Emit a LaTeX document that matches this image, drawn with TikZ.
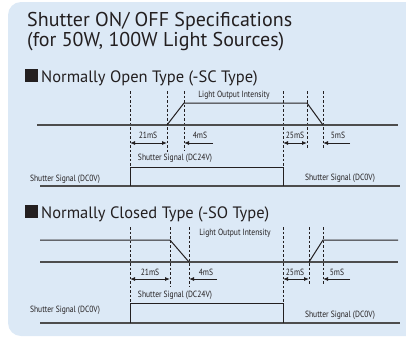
\documentclass[tikz,border=0pt]{standalone}
\usepackage{fontspec}
\setmainfont{PT Sans}
\usetikzlibrary{arrows.meta}
\definecolor{bgblue}{HTML}{DCE9F6}
\definecolor{ink}{HTML}{231F20}
\definecolor{basegray}{HTML}{4D4D4D}
\newcommand{\cnd}[1]{\scalebox{0.84}[1]{#1}}
\begin{document}
\begin{tikzpicture}[x=1pt,y=-1pt,
  lbl/.style={font=\fontsize{9}{10}\selectfont, inner sep=0pt, text=ink},
  ttl/.style={font=\fontsize{20}{18}\selectfont, inner sep=0pt, text=ink, anchor=base west, align=left},
  hdr/.style={font=\fontsize{16.5}{18}\selectfont, inner sep=0pt, text=ink, anchor=base west},
  dsh/.style={ink, line width=0.8pt, dash pattern=on 2.5pt off 2pt},
  sig/.style={ink, line width=1pt},
  basel/.style={basegray, line width=1.4pt},
  arr/.style={ink, line width=0.9pt, -{Latex[length=5pt,width=4pt]}},
  darr/.style={ink, line width=0.9pt, {Latex[length=5pt,width=4pt]}-{Latex[length=5pt,width=4pt]}},
  sq/.style={fill=ink}
]
\useasboundingbox (0,0) rectangle (406,338);
\fill[bgblue, rounded corners=13pt] (406,2) -- (8,2) -- (8,336) -- (406,336);
\fill[bgblue] (390,2) rectangle (406,336);

% title
\node[ttl] (title) at (27,46) {Shutter ON/ OFF Specifications\\(for 50W, 100W Light Sources)};

% ===== Normally Open =====
\fill[sq] (25,69) rectangle (38,82);
\node[hdr] (h1) at (41,82) {Normally Open Type (-SC Type)};

\node[lbl] (loi1) at (234,95) {\cnd{Light Output Intensity}};
% dashed lines
\draw[dsh] (130,91) -- (130,167);
\draw[dsh] (167,91) -- (167,153);
\draw[dsh] (184,91) -- (184,151);
\draw[dsh] (283,91) -- (283,167);
\draw[dsh] (307,91) -- (307,149);
\draw[dsh] (323,91) -- (323,149);
% light trace
\draw[basel] (37,125) -- (398,125);
\draw[sig] (167,125) -- (184,103) -- (307,103) -- (323,125);
% timing arrows
\coordinate (a1) at (130,143); \coordinate (a2) at (167,143);
\coordinate (a3) at (184,143); \coordinate (a4) at (213,143);
\coordinate (a5) at (283,143); \coordinate (a6) at (307,143);
\coordinate (a7) at (323,143); \coordinate (a8) at (350,143);
\draw[darr] (a1) -- (a2);
\draw[arr] (a4) -- (a3);
\draw[darr] (a5) -- (a6);
\draw[arr] (a8) -- (a7);
\node[lbl] (m21a) at (148,135) {\cnd{21mS}};
\node[lbl] (m4a) at (200,135) {\cnd{4mS}};
\node[lbl] (m25a) at (295,135) {\cnd{25mS}};
\node[lbl] (m5a) at (338,135) {\cnd{5mS}};
% shutter signal
\draw[basel] (40,186) -- (400,186);
\draw[sig] (130,186) -- (130,167) -- (283,167) -- (283,186);
\node[lbl] (s24a) at (175,158) {\cnd{Shutter Signal (DC24V)}};
\node[lbl] (s0a) at (65,179) {\cnd{Shutter Signal (DC0V)}};
\node[lbl] (s0b) at (340,178) {\cnd{Shutter Signal (DC0V)}};

% ===== Normally Closed =====
\fill[sq] (25,205) rectangle (38,218);
\node[hdr] (h2) at (41,218) {Normally Closed Type (-SO Type)};

\node[lbl] (loi2) at (235,233) {\cnd{Light Output Intensity}};
\draw[dsh] (130,227) -- (130,303);
\draw[dsh] (170,227) -- (170,287);
\draw[dsh] (189,227) -- (189,287);
\draw[dsh] (283,227) -- (283,303);
\draw[dsh] (309,227) -- (309,285);
\draw[dsh] (323,227) -- (323,285);
\draw[basel] (40,262) -- (398,262);
\draw[sig] (40,240) -- (170,240) -- (189,262);
\draw[sig] (309,262) -- (323,240) -- (398,240);
\coordinate (b1) at (130,279); \coordinate (b2) at (170,279);
\coordinate (b3) at (189,279); \coordinate (b4) at (217,279);
\coordinate (b5) at (283,279); \coordinate (b6) at (309,279);
\coordinate (b7) at (323,279); \coordinate (b8) at (350,279);
\draw[darr] (b1) -- (b2);
\draw[arr] (b4) -- (b3);
\draw[darr] (b5) -- (b6);
\draw[arr] (b8) -- (b7);
\node[lbl] (m21b) at (150,272) {\cnd{21mS}};
\node[lbl] (m4b) at (206,272) {\cnd{4mS}};
\node[lbl] (m25b) at (295,272) {\cnd{25mS}};
\node[lbl] (m5b) at (337,272) {\cnd{5mS}};
\draw[basel] (40,323) -- (400,323);
\draw[sig] (130,323) -- (130,303) -- (283,303) -- (283,323);
\node[lbl] (s24b) at (175,295) {\cnd{Shutter Signal (DC24V)}};
\node[lbl] (s0c) at (65,310) {\cnd{Shutter Signal (DC0V)}};
\node[lbl] (s0d) at (340,315) {\cnd{Shutter Signal (DC0V)}};
\end{tikzpicture}
\end{document}
